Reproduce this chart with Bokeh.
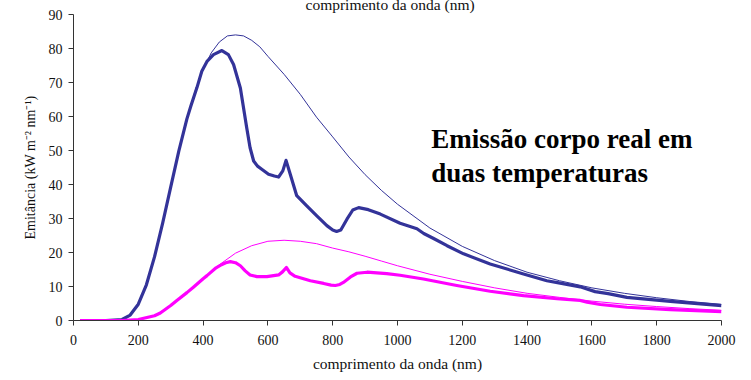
from bokeh.plotting import figure
from bokeh.models import Range1d, Label, FixedTicker
from bokeh.embed import file_html
from bokeh.resources import INLINE

# Thin curves (ideal blackbody at two temperatures)
bb_hot_x = [20, 100, 150, 175, 200, 225, 250, 275, 300, 325, 350, 375, 400, 425, 450, 475, 500,
            525, 550, 575, 600, 650, 700, 750, 800, 850, 900, 950, 1000, 1100, 1200, 1300, 1400,
            1500, 1600, 1700, 1800, 1900, 2000]
bb_hot_y = [0, 0, 0.3, 1.6, 4.8, 10.5, 18.7, 28.6, 39.2, 49.8, 59.3, 67.4, 73.8, 78.7, 81.9, 83.7,
            84.0, 83.7, 82.4, 80.5, 77.7, 72.4, 66.5, 59.8, 54.0, 48.1, 42.9, 38.3, 34.2, 27.2,
            21.8, 17.6, 14.2, 11.7, 9.6, 8.0, 6.7, 5.6, 4.75]

bb_cool_x = [20, 150, 200, 250, 300, 350, 400, 450, 500, 550, 600, 650, 700, 750, 800,
             850, 900, 950, 1000, 1100, 1200, 1300, 1400, 1500, 1600, 1700, 1800, 1900, 2000]
bb_cool_y = [0, 0, 0.3, 1.4, 4.4, 8.2, 12.3, 16.4, 19.8, 22.0, 23.3, 23.6, 23.3, 22.6, 21.3,
             20.2, 18.9, 17.5, 16.1, 13.6, 11.5, 9.6, 8.0, 6.8, 5.7, 4.8, 4.1, 3.5, 3.0]

# Thick curves (real body emission)
real_hot_x = [20, 100, 150, 175, 200, 225, 250, 275, 300, 325, 350, 362, 381, 396, 412, 432, 458,
              478, 494, 515, 535, 545, 556, 568, 581, 602, 620, 633, 646, 656, 669, 689, 720, 751,
              782, 800, 812, 825, 844, 862, 880, 910, 947, 1008, 1060, 1081, 1110, 1153, 1204,
              1286, 1389, 1461, 1502, 1564, 1580, 1610, 1650, 1708, 1842, 2000]
real_hot_y = [0, 0, 0.3, 1.6, 4.8, 10.5, 18.7, 28.6, 39.2, 49.8, 59.3, 63.0, 68.5, 73.3, 76.2,
              78.2, 79.4, 78.2, 75.3, 68.4, 56.5, 50.8, 46.9, 45.4, 44.5, 43.0, 42.5, 42.2, 44.0,
              47.1, 43.0, 36.7, 33.7, 30.8, 27.9, 26.6, 26.2, 26.6, 29.8, 32.5, 33.2, 32.6, 31.3,
              28.6, 27.0, 25.6, 24.2, 22.0, 19.6, 16.6, 13.7, 11.7, 11.0, 9.9, 9.4, 8.5, 7.9, 6.8,
              5.6, 4.4]

real_cool_x = [20, 150, 200, 250, 268, 300, 319, 350, 370, 400, 412, 440, 453, 470, 484, 500, 515,
               530, 545, 566, 597, 633, 645, 657, 668, 684, 731, 772, 795, 808, 822, 833, 855, 875,
               906, 967, 1008, 1080, 1183, 1286, 1389, 1492, 1564, 1585, 1626, 1708, 1842, 2000]
real_cool_y = [0, 0, 0.3, 1.4, 2.2, 4.4, 5.9, 8.2, 9.8, 12.3, 13.2, 15.5, 16.2, 17.0, 17.3, 17.0,
               16.1, 14.6, 13.4, 12.9, 12.9, 13.4, 14.3, 15.6, 14.0, 13.0, 11.7, 10.9, 10.4, 10.3,
               10.6, 11.2, 12.8, 13.9, 14.2, 13.8, 13.3, 12.2, 10.3, 8.6, 7.3, 6.4, 5.9, 5.4, 4.7,
               3.9, 3.2, 2.6]

x_ticks = [0, 200, 400, 600, 800, 1000, 1200, 1400, 1600, 1800, 2000]
y_ticks = [0, 10, 20, 30, 40, 50, 60, 70, 80, 90]

NAVY = "#333399"
MAGENTA = "#FF00FF"
FONT = "Liberation Serif"

p = figure(width=751, height=388, output_backend="svg", toolbar_location=None,
           x_range=Range1d(0, 2000), y_range=Range1d(0, 90),
           min_border_left=73, min_border_right=30, min_border_top=22, min_border_bottom=60)
p.styles = {"margin-top": "-8px"}
p.outline_line_color = None
p.xgrid.visible = False
p.ygrid.visible = False
p.background_fill_color = "white"
p.border_fill_color = "white"

p.title.text = "comprimento da onda (nm)"
p.title.text_font = FONT
p.title.text_font_size = "15.5px"
p.title.text_font_style = "normal"
p.title.text_color = "#111111"
p.title.align = "left"
p.title.offset = 232
p.title.standoff = 3

p.line(bb_hot_x, bb_hot_y, line_color=NAVY, line_width=1)
p.line(bb_cool_x, bb_cool_y, line_color=MAGENTA, line_width=1)
p.line(real_hot_x, real_hot_y, line_color=NAVY, line_width=3.2, line_join="round")
p.line(real_cool_x, real_cool_y, line_color=MAGENTA, line_width=3.2, line_join="round")

for ax in (p.xaxis[0], p.yaxis[0]):
    ax.axis_line_color = "#333333"
    ax.major_tick_line_color = "#333333"
    ax.major_tick_out = 5
    ax.major_tick_in = 0
    ax.minor_tick_line_color = None
    ax.major_label_text_font = FONT
    ax.major_label_text_font_size = "14px"
    ax.major_label_text_color = "#111111"
    ax.axis_label_text_font = FONT
    ax.axis_label_text_font_style = "normal"
    ax.axis_label_text_color = "#111111"

p.xaxis.ticker = FixedTicker(ticks=x_ticks)
p.yaxis.ticker = FixedTicker(ticks=y_ticks)
p.xaxis.axis_label = "comprimento da onda (nm)"
p.xaxis.axis_label_text_font_size = "15.5px"
p.xaxis.major_label_standoff = 9
p.xaxis.axis_label_standoff = 7
p.yaxis.axis_label = "Emitância (kW m⁻² nm⁻¹)"
p.yaxis.axis_label_text_font_size = "14px"
p.yaxis.major_label_standoff = 6
p.yaxis.axis_label_standoff = 8

t1 = Label(x=1104, y=53.4, text="Emissão corpo real em", text_font=FONT,
           text_font_size="27px", text_font_style="bold", text_baseline="alphabetic",
           text_color="#000000")
t2 = Label(x=1104, y=43.4, text="duas temperaturas", text_font=FONT,
           text_font_size="27px", text_font_style="bold", text_baseline="alphabetic",
           text_color="#000000")
p.add_layout(t1)
p.add_layout(t2)

open("out.html", "w").write(file_html(p, INLINE))
